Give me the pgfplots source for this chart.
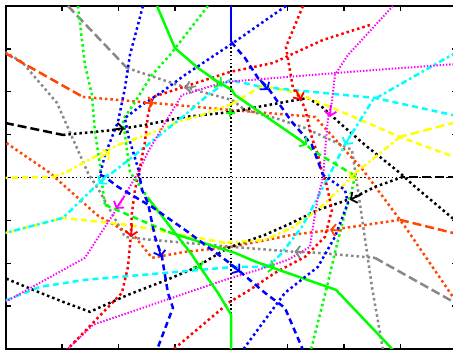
\documentclass[border=0pt]{standalone}
\usepackage{pgfplots}
\pgfplotsset{compat=1.18}
\usetikzlibrary{arrows.meta}
\definecolor{cR}{RGB}{255,0,0}
\definecolor{cG}{RGB}{0,255,0}
\definecolor{cB}{RGB}{0,0,255}
\definecolor{cM}{RGB}{255,0,255}
\definecolor{cC}{RGB}{0,255,255}
\definecolor{cY}{RGB}{255,255,0}
\definecolor{cO}{RGB}{255,69,0}
\definecolor{cK}{RGB}{0,0,0}
\definecolor{cA}{RGB}{136,136,136}
\pgfplotsset{
 sol/.style={line width=2.5pt, solid},
 dot/.style={line width=2.5pt, dash pattern=on 2.5pt off 3pt},
 fdot/.style={line width=2pt, dash pattern=on 1.4pt off 1.8pt},
 dsh/.style={line width=2.5pt, dash pattern=on 6pt off 4pt},
 ldsh/.style={line width=2.5pt, dash pattern=on 9pt off 4pt},
 dd/.style={line width=2.5pt, dash pattern=on 6pt off 3pt on 2.5pt off 3pt},
 arr/.style={line width=1.8pt, solid, -{Straight Barb[length=4.5pt,width=12pt]}},
}
\begin{document}
\begin{tikzpicture}
\begin{axis}[
 at={(0,0)}, anchor=south west,
 width=451.5pt, height=343pt, scale only axis,
 xmin=-4, xmax=4, ymin=-4, ymax=4,
 xtick={-4,...,4}, ytick={-4,...,4},
 xticklabels={}, yticklabels={},
 tick pos=both, tick align=inside, major tick length=5pt,
 tick style={line width=1.4pt, black},
 axis line style={line width=2pt, black},
 clip=true,
]
% zero axes
\addplot[black, line width=1.7pt, dash pattern=on 1.7pt off 2.2pt] coordinates {(-4,0)(4,0)};
\addplot[black, line width=1.7pt, dash pattern=on 1.7pt off 2.2pt] coordinates {(0,-4)(0,4)};

% gray
\addplot[cA, ldsh] coordinates {(-2.893,4.0)(-1.848,2.555)};
\addplot[cA, dot] coordinates {(-1.848,2.555)(-0.785,2.089)(0.012,1.809)(0.243,1.576)(0.774,1.389)(1.306,1.156)(2.139,0.643)(2.245,-0.289)(2.493,-2.550)(2.688,-4.019)};
\addplot[cA, dot] coordinates {(-4.010,2.928)(-3.708,2.695)(-3.088,1.739)(-2.539,0.107)(-2.326,-0.336)(-2.149,-0.755)(-1.883,-1.385)(-1.405,-1.455)(0.012,-1.618)(1.129,-1.734)(1.536,-1.758)(2.546,-1.874)};
\addplot[cA, ldsh] coordinates {(2.546,-1.874)(3.999,-2.946)};

% orange-red
\addplot[cO, ldsh] coordinates {(-4.010,2.904)(-2.628,1.879)};
\addplot[cO, dot] coordinates {(-2.628,1.879)(-1.387,1.739)(-0.023,1.576)(1.483,1.413)(2.333,0.177)(3.095,-1.175)(3.999,-2.923)};
\addplot[cO, dot] coordinates {(-4.063,0.876)(-3.212,0.107)(-2.380,-0.872)(-1.706,-1.385)(-1.405,-1.874)(-0.820,-1.734)(0.012,-1.618)(1.075,-1.338)(1.784,-1.221)(2.989,-0.988)};
\addplot[cO, ldsh] coordinates {(2.989,-0.988)(3.999,-1.315)};

% black
\addplot[cK, ldsh] coordinates {(-4.010,1.273)(-2.982,0.993)};
\addplot[cK, dot] coordinates {(-2.982,0.993)(-2.061,1.110)(-1.529,1.226)(-0.820,1.413)(0.012,1.529)(0.473,1.646)(0.951,1.762)(1.359,1.855)(1.607,1.646)(1.961,1.226)(2.369,0.760)(2.989,0.107)(3.219,-0.172)(3.999,-1.035)};
\addplot[cK, ldsh] coordinates {(3.999,0.014)(3.042,0.014)};
\addplot[cK, dot] coordinates {(3.042,0.014)(2.546,-0.219)(2.192,-0.452)(1.961,-0.569)(1.536,-0.755)(1.075,-1.058)(0.597,-1.338)(0.243,-1.501)(-0.058,-1.641)(-0.643,-2.107)(-1.139,-2.387)(-1.830,-2.737)(-2.149,-2.923)(-2.504,-3.133)(-2.982,-2.900)(-3.514,-2.620)(-4.063,-2.317)};

% yellow
\addplot[cY, dsh] coordinates {(-4.063,-0.009)(-3.159,0.014)};
\addplot[cY, dd] coordinates {(-3.159,0.014)(-2.947,0.107)(-2.592,0.364)(-2.007,0.760)(-1.405,1.040)(-0.944,1.296)(-0.519,1.459)(0.012,1.716)};
\addplot[cY, dsh] coordinates {(0.012,1.716)(0.544,2.135)(1.093,1.995)(1.802,1.622)(2.989,0.946)(3.999,0.457)};
\addplot[cY, ldsh] coordinates {(3.999,1.296)(2.989,0.946)};
\addplot[cY, dd] coordinates {(2.989,0.946)(2.333,0.247)(2.139,0.014)(1.961,-0.219)(1.536,-0.755)(1.075,-1.175)(0.597,-1.455)(-0.112,-1.524)};
\addplot[cY, dsh] coordinates {(-0.112,-1.524)(-1.830,-1.105)(-2.982,-0.942)(-4.063,-1.315)};

% cyan
\addplot[cC, dsh] coordinates {(3.999,1.436)(2.546,1.855)(0.544,2.112)(-0.023,2.275)};
\addplot[cC, dd] coordinates {(-0.023,2.275)(-0.413,1.925)(-0.820,1.459)(-1.263,0.993)(-1.706,0.527)(-2.114,0.107)(-2.326,-0.103)(-2.982,-0.942)(-4.063,-1.315)};
\addplot[cC, dd] coordinates {(3.999,2.928)(2.511,1.809)(2.032,0.807)(1.784,0.177)(1.483,-0.592)(1.253,-1.152)(0.898,-1.758)(0.650,-2.084)};
\addplot[cC, dsh] coordinates {(0.650,-2.084)(0.066,-2.084)(-2.592,-2.387)(-3.389,-2.550)(-4.063,-2.900)};

% magenta
\addplot[cM, fdot] coordinates {(3.999,2.648)(2.546,2.508)(-0.112,2.228)(-0.873,1.925)(-1.122,1.389)(-1.476,0.597)(-1.653,0.107)(-2.007,-0.685)(-2.592,-1.874)(-4.063,-2.946)};
\addplot[cM, fdot] coordinates {(2.865,4.0)(2.068,2.858)(1.837,2.392)(1.784,1.762)(1.713,1.389)(1.625,-0.009)(1.536,-0.452)(1.448,-1.152)(1.394,-1.618)(1.005,-1.921)(0.473,-2.154)(-0.112,-2.387)(-2.450,-3.436)(-2.911,-4.019)};

% red
\addplot[cR, dot] coordinates {(1.270,4.0)(0.969,3.044)(1.093,2.089)(1.217,1.855)(1.306,1.622)(1.430,0.923)(1.536,0.527)(1.607,0.131)(1.678,-0.103)(1.784,-0.755)(1.660,-1.385)(1.306,-1.851)(0.774,-2.224)(0.331,-2.620)(-0.023,-2.900)(-1.033,-4.019)};
\addplot[cR, dot] coordinates {(2.457,3.557)(1.625,3.208)(0.739,2.671)(-0.023,2.462)(-1.387,1.879)(-1.476,1.459)(-1.529,0.830)(-1.618,0.224)(-1.706,-0.289)(-1.759,-0.825)(-1.777,-1.338)(-1.830,-2.084)(-1.937,-2.690)(-2.911,-4.019)};

% green
\addplot[cG, sol] coordinates {(-1.316,4.0)(-0.998,3.021)(-0.590,2.555)(-0.289,2.275)(0.012,2.042)(0.066,1.925)(1.217,0.876)};
\addplot[cG, dsh] coordinates {(1.217,0.876)(1.483,0.597)(1.961,0.224)(2.192,0.037)};
\addplot[cG, dot] coordinates {(2.192,0.037)(2.139,-0.289)(2.015,-0.825)(1.837,-1.758)(1.696,-2.550)(1.412,-4.019)};
\addplot[cG, dot] coordinates {(-2.716,4.0)(-2.592,2.625)(-2.468,1.925)(-2.415,1.063)(-2.326,0.294)(-2.291,-0.126)(-2.238,-0.639)};
\addplot[cG, dsh] coordinates {(-2.238,-0.639)(-1.122,-1.268)};
\addplot[cG, sol] coordinates {(-1.122,-1.268)(0.066,-1.758)(0.438,-1.967)(0.739,-2.107)(1.855,-2.620)(2.865,-4.019)};
\addplot[cG, dot] coordinates {(-0.413,4.0)(-1.086,2.858)(-1.405,2.392)(-1.706,1.762)(-1.919,1.343)(-1.795,0.131)(-1.618,-0.196)(-1.476,-0.476)};
\addplot[cG, sol] coordinates {(-1.476,-0.476)(-0.696,-1.804)(-0.555,-2.084)(-0.236,-2.690)(0,-3.203)(0,-4.019)};

% blue
\addplot[cB, sol] coordinates {(0,4)(0,3.161)};
\addplot[cB, dsh] coordinates {(0,3.161)(0.243,2.788)(0.473,2.322)(0.650,2.089)(1.075,1.296)(1.430,0.760)(1.625,0.061)};
\addplot[cB, dot] coordinates {(0.969,4.0)(-0.02,3.091)(-0.289,2.858)(-0.820,2.392)(-1.228,1.995)(-1.582,1.692)(-1.883,1.389)(-1.830,0.993)(-1.653,0.224)(-1.618,-0.009)};
\addplot[cB, dsh] coordinates {(-1.618,-0.009)(-1.582,-0.289)(-1.476,-0.592)(-1.352,-1.385)(-1.228,-1.851)(-1.122,-2.690)(-1.033,-3.040)(-1.316,-4.019)};
\addplot[cB, dot] coordinates {(-1.565,4.0)(-1.795,2.858)(-1.883,2.089)(-2.007,1.296)(-2.238,0.527)(-2.326,0.061)};
\addplot[cB, dsh] coordinates {(-2.326,0.061)(-2.238,0.014)(-2.007,-0.219)(-1.405,-0.685)(-0.820,-1.221)(-0.058,-1.967)(0.119,-2.154)(0.597,-2.690)(0.951,-3.040)(1.270,-4.019)};
\addplot[cB, dot] coordinates {(1.625,0.061)(2.015,-0.289)(2.068,-0.592)(1.837,-1.385)(1.536,-2.084)(0.951,-2.690)(0.207,-4.019)};

% arrow heads
\addplot[cG, arr] coordinates {(-0.374,2.338)(-0.165,2.152)};
\addplot[cG, arr] coordinates {(1.146,0.946)(1.341,0.760)};
\addplot[cG, arr] coordinates {(0.545,-2.014)(0.774,-2.107)};
\addplot[cG, arr] coordinates {(-0.661,-1.875)(-0.537,-2.131)};
\addplot[cG, only marks, mark=+, mark size=4.5pt, mark options={line width=1.8pt}] coordinates {(-0.02,1.506)};
\addplot[cB, arr] coordinates {(0.509,2.275)(0.650,2.042)};
\addplot[cB, arr] coordinates {(-0.023,-2.014)(0.154,-2.201)};
\addplot[cB, arr] coordinates {(-1.299,-1.571)(-1.246,-1.851)};
\addplot[cR, arr] coordinates {(1.146,2.042)(1.235,1.809)};
\addplot[cR, arr] coordinates {(-1.759,-1.105)(-1.777,-1.385)};
\addplot[cO, arr] coordinates {(-1.55,1.735)(-1.37,1.74)};
\addplot[cO, arr] coordinates {(1.95,-1.24)(1.75,-1.22)};
\addplot[cA, arr] coordinates {(-0.62,2.13)(-0.82,2.08)};
\addplot[cA, arr] coordinates {(1.30,-1.74)(1.12,-1.73)};
\addplot[cC, arr] coordinates {(2.139,1.040)(2.015,0.760)};
\addplot[cC, arr] coordinates {(-2.185,0.084)(-2.344,-0.149)};
\addplot[cM, arr] coordinates {(1.767,1.692)(1.749,1.413)};
\addplot[cM, arr] coordinates {(-1.901,-0.452)(-2.043,-0.732)};
\addplot[cY, arr] coordinates {(-2.326,0.457)(-2.149,0.597)};
\addplot[cY, arr] coordinates {(2.245,0.177)(2.103,-0.033)};
\addplot[cK, arr] coordinates {(-2.114,1.110)(-1.901,1.156)};
\addplot[cK, arr] coordinates {(2.316,-0.382)(2.103,-0.522)};
\end{axis}
\pgfresetboundingbox
\path[use as bounding box] (-5.5pt,-1pt) rectangle (447.5pt,349pt);
\end{tikzpicture}
\end{document}
